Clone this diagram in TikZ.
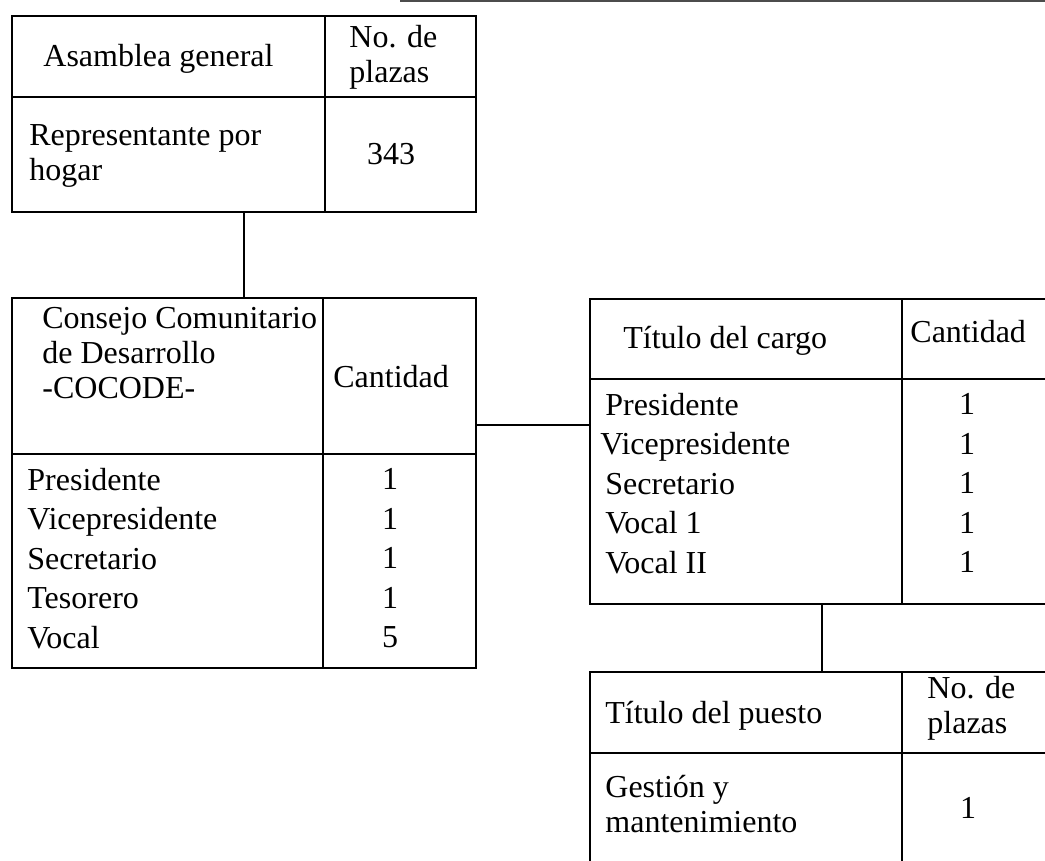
\documentclass[tikz,border=0pt]{standalone}
\usepackage{fontspec}
\setmainfont{Liberation Serif}
\usetikzlibrary{positioning,calc}

\newcommand{\tablerules}[3]{%
  \draw[rule] ([yshift=-#2]#1.north west) -- ([yshift=-#2]#1.north east);
  \draw[rule] ([xshift=#3]#1.north west) -- ([xshift=#3]#1.south west);
}

\begin{document}
\begin{tikzpicture}[x=0.5pt, y=-0.5pt,
    frame/.style={draw, rectangle, line width=1.2pt, outer sep=0pt, inner sep=0pt, minimum width=232pt, anchor=north west},
    rule/.style={line width=1.2pt},
    txt/.style={inner sep=0pt, font=\fontsize{16}{17.5}\selectfont},
    head/.style={inner sep=0pt, align=left, anchor=north west, font=\fontsize{16}{17.5}\selectfont},
    lines/.style={inner sep=0pt, align=left, font=\fontsize{16}{19.75}\selectfont},
    link/.style={line width=1pt},
    scan/.style={line width=0.6pt, black!70}]

\useasboundingbox (0,0) rectangle (1045,861);

% Asamblea general
\node[frame, minimum height=98pt] (asamblea) at (12,16) {};
\tablerules{asamblea}{40.5pt}{156.5pt}
\node[txt, anchor=base west] (asambleaHead) at (43,67) {Asamblea general};
\node[head] (asambleaPlazas) at (349,24.5) {No. de\\plazas};
\node[head] (asambleaRep) at (29,124.5) {Representante por\\hogar};
\node[txt, anchor=base] (asambleaNum) at (391,165) {343};

% COCODE
\node[frame, minimum height=185pt] (cocode) at (12,298) {};
\tablerules{cocode}{78pt}{155.5pt}
\node[head] (cocodeHead) at (42,307) {Consejo Comunitario\\de Desarrollo\\-COCODE-};
\node[txt, anchor=west] (cocodeCant) at (333,377) {Cantidad};
\node[lines, anchor=north west] (cocodeCargos) at (27,467.5) {Presidente\\Vicepresidente\\Secretario\\Tesorero\\Vocal};
\node[lines, align=center, anchor=north] (cocodeNum) at (390,468) {1\\1\\1\\1\\5};

% Titulo del cargo
\node[frame, minimum height=152.5pt] (cargo) at (590,299) {};
\tablerules{cargo}{40pt}{156pt}
\node[txt, anchor=base west] (cargoHead) at (623,349) {Título del cargo};
\node[txt, anchor=base west] (cargoCant) at (910,343) {Cantidad};
\node[lines, anchor=north west] (cargoList) at (605,392.5) {Presidente\\\hspace*{-2.5pt}Vicepresidente\\Secretario\\Vocal 1\\Vocal II};
\node[lines, align=center, anchor=north] (cargoNum) at (967,393) {1\\1\\1\\1\\1};

% Titulo del puesto
\node[frame, minimum height=100pt] (puesto) at (590,672) {};
\tablerules{puesto}{40.5pt}{156pt}
\node[txt, anchor=base west] (puestoHead) at (605,723) {Título del puesto};
\node[head] (puestoPlazas) at (927,675.5) {No. de\\plazas};
\node[head] (puestoGestion) at (605,774.5) {Gestión y\\mantenimiento};
\node[txt, anchor=base] (puestoNum) at (968,818) {1};

% links between the tables
\draw[link] (asamblea.south) -- (cocode.north);
\coordinate (joint) at (533,425);
\draw[link] (cocode.east |- joint) -- (cargo.west |- joint);
\draw[link] (cargo.south) -- (puesto.north);

% scanner edge
\draw[scan] (400,1) -- (1045,1);

\end{tikzpicture}
\end{document}
